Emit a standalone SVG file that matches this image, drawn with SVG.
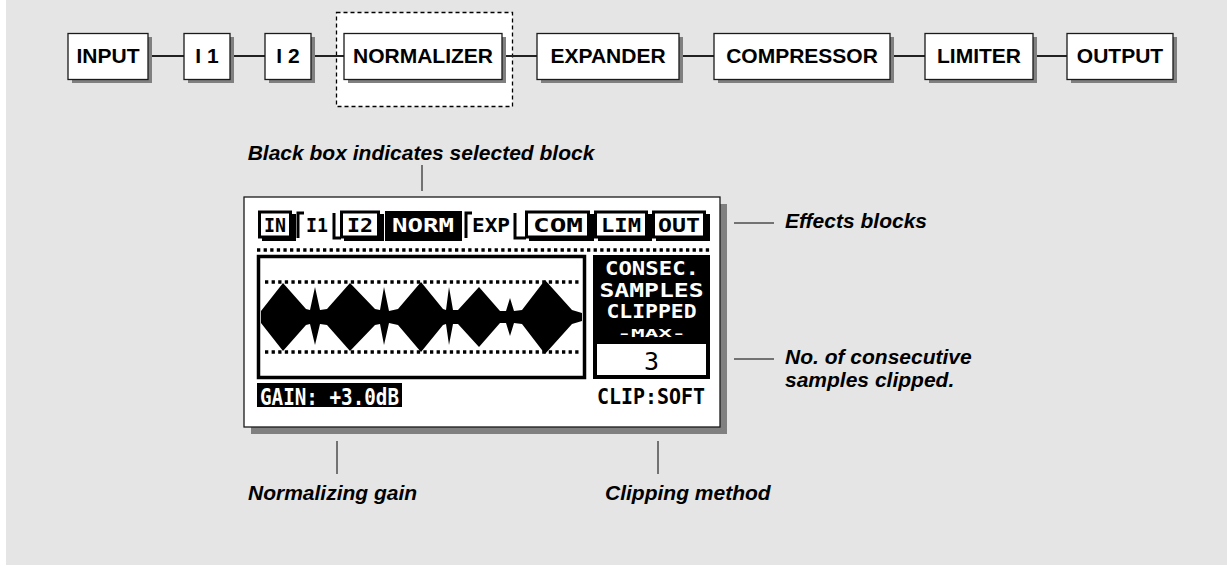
<svg xmlns="http://www.w3.org/2000/svg" width="1227" height="566" viewBox="0 0 1227 566">
<style>
.box{fill:#fff;stroke:#1a1a1a;stroke-width:1.3}
.shd{fill:#808080}
.lbl{font-family:"Liberation Sans",Arial,sans-serif;font-weight:bold;font-size:21px;fill:#000;text-anchor:middle}
.note{font-family:"Liberation Sans",Arial,sans-serif;font-weight:bold;font-style:italic;font-size:21px;fill:#000}
.lead{stroke:#000;stroke-width:1;fill:none}
.wire{stroke:#222;stroke-width:2;fill:none}
.lcd{font-family:"DejaVu Sans Mono","Liberation Mono",monospace;font-weight:bold;text-anchor:middle}
.dots{stroke:#000;stroke-width:3.4;stroke-dasharray:3.3 3.3;fill:none}
.tab{fill:#fff;stroke:#000;stroke-width:3}
.hook{fill:none;stroke:#000;stroke-width:3}
</style>
<rect x="0" y="0" width="1227" height="566" fill="#fff"/>
<rect x="6" y="0" width="1221" height="565" fill="#e5e5e5"/>

<g id="selection">
<rect x="336.5" y="12.5" width="176" height="94" fill="#fff" stroke="#000" stroke-width="1.3" stroke-dasharray="4 3"/>
</g>

<g id="connectors">
<line class="wire" x1="148" y1="56" x2="184" y2="56"/>
<line class="wire" x1="230" y1="56" x2="265" y2="56"/>
<line class="wire" x1="311" y1="56" x2="344" y2="56"/>
<line class="wire" x1="502" y1="56" x2="537" y2="56"/>
<line class="wire" x1="679" y1="56" x2="714" y2="56"/>
<line class="wire" x1="890" y1="56" x2="925" y2="56"/>
<line class="wire" x1="1033" y1="56" x2="1067" y2="56"/>
</g>

<g id="input"><rect class="shd" x="72" y="37" width="80" height="46"/><rect class="box" x="68" y="33.5" width="80" height="46"/><text class="lbl" x="108" y="63">INPUT</text></g>
<g id="i1"><rect class="shd" x="188" y="37" width="46" height="46"/><rect class="box" x="184" y="33.5" width="46" height="46"/><text class="lbl" x="207" y="63">I 1</text></g>
<g id="i2"><rect class="shd" x="269" y="37" width="46" height="46"/><rect class="box" x="265" y="33.5" width="46" height="46"/><text class="lbl" x="288" y="63">I 2</text></g>
<g id="normalizer"><rect class="shd" x="348" y="37" width="158" height="46"/><rect class="box" x="344" y="33.5" width="158" height="46"/><text class="lbl" x="423" y="63">NORMALIZER</text></g>
<g id="expander"><rect class="shd" x="541" y="37" width="142" height="46"/><rect class="box" x="537" y="33.5" width="142" height="46"/><text class="lbl" x="608" y="63">EXPANDER</text></g>
<g id="compressor"><rect class="shd" x="718" y="37" width="176" height="46"/><rect class="box" x="714" y="33.5" width="176" height="46"/><text class="lbl" x="802" y="63">COMPRESSOR</text></g>
<g id="limiter"><rect class="shd" x="929" y="37" width="108" height="46"/><rect class="box" x="925" y="33.5" width="108" height="46"/><text class="lbl" x="979" y="63">LIMITER</text></g>
<g id="output"><rect class="shd" x="1071" y="37" width="106" height="46"/><rect class="box" x="1067" y="33.5" width="106" height="46"/><text class="lbl" x="1120" y="63">OUTPUT</text></g>

<g id="annotations">
<text class="note" x="421" y="160" text-anchor="middle">Black box indicates selected block</text>
<line class="lead" x1="422" y1="165" x2="422" y2="191"/>
<line class="lead" x1="734" y1="223" x2="774" y2="223"/>
<text class="note" x="785" y="228">Effects blocks</text>
<line class="lead" x1="734" y1="359" x2="774" y2="359"/>
<text class="note" x="785" y="364">No. of consecutive</text>
<text class="note" x="785" y="387">samples clipped.</text>
<line class="lead" x1="337" y1="441" x2="337" y2="474"/>
<text class="note" x="248" y="500">Normalizing gain</text>
<line class="lead" x1="658" y1="441" x2="658" y2="474"/>
<text class="note" x="605" y="500">Clipping method</text>
</g>

<g id="lcd">
<rect class="shd" x="251" y="204" width="476" height="230"/>
<rect x="244" y="197" width="476" height="230" fill="#fff" stroke="#1a1a1a" stroke-width="1.3"/>

<g id="lcd-tabs">
<rect x="262" y="214" width="34" height="27" fill="#000"/><rect class="tab" x="259.5" y="212" width="31" height="25"/>
<text class="lcd" x="275" y="232" font-size="20" textLength="22" lengthAdjust="spacingAndGlyphs">IN</text>
<polyline class="hook" points="298,238 298,213 304,213"/>
<polyline class="hook" points="334,213 334,238 341,238"/>
<text class="lcd" x="317" y="232" font-size="20" textLength="22" lengthAdjust="spacingAndGlyphs">I1</text>
<rect x="344" y="214" width="40" height="27" fill="#000"/><rect class="tab" x="341.5" y="212" width="37" height="25"/>
<text class="lcd" x="360" y="232" font-size="20" textLength="26" lengthAdjust="spacingAndGlyphs">I2</text>
<rect x="385" y="211" width="77" height="30" fill="#000"/>
<text class="lcd" x="423" y="232" font-size="20" fill="#fff" textLength="62" lengthAdjust="spacingAndGlyphs">NORM</text>
<polyline class="hook" points="466,238 466,213 472,213"/>
<polyline class="hook" points="515,213 515,238 526,238"/>
<text class="lcd" x="491" y="232" font-size="20" textLength="38" lengthAdjust="spacingAndGlyphs">EXP</text>
<rect x="529" y="214" width="65" height="27" fill="#000"/><rect class="tab" x="526.5" y="212" width="62" height="25"/>
<text class="lcd" x="558" y="232" font-size="20" textLength="50" lengthAdjust="spacingAndGlyphs">COM</text>
<rect x="598" y="214" width="54" height="27" fill="#000"/><rect class="tab" x="595.5" y="212" width="51" height="25"/>
<text class="lcd" x="621" y="232" font-size="20" textLength="40" lengthAdjust="spacingAndGlyphs">LIM</text>
<rect x="656" y="214" width="54" height="27" fill="#000"/><rect class="tab" x="653.5" y="212" width="51" height="25"/>
<text class="lcd" x="679" y="232" font-size="20" textLength="42" lengthAdjust="spacingAndGlyphs">OUT</text>
</g>
<line class="dots" x1="257" y1="250" x2="712" y2="250"/>

<rect x="258.5" y="256.5" width="326" height="121" fill="#fff" stroke="#000" stroke-width="3.5"/>
<line class="dots" x1="265" y1="282" x2="580" y2="282"/>
<line class="dots" x1="265" y1="352" x2="580" y2="352"/>
<polygon fill="#000" points="261,311 283,283 306,309 310,310 315,287 320,310 327,309 350,283 375,309 380,310 384,287 389,311 398,309 421,282 443,309 446,310 449,287 453,310 458,310 479,287 500,311 506,311 510,298 514,311 522,310 545,280 572,310 582,313 582,321 572,324 545,354 522,324 514,323 510,336 506,323 500,323 479,347 458,324 453,324 449,345 446,324 443,325 421,352 398,325 389,323 384,345 380,324 375,325 350,351 327,325 320,324 315,345 310,324 306,325 283,351 261,323"/>

<rect x="593" y="255" width="117" height="124" fill="#000"/>
<rect x="597" y="344" width="109" height="31" fill="#fff"/>
<text class="lcd" transform="translate(652,275) scale(1,1.25)" font-size="16" fill="#fff" textLength="94" lengthAdjust="spacingAndGlyphs">CONSEC.</text>
<text class="lcd" transform="translate(651.5,297) scale(1,1.25)" font-size="16" fill="#fff" textLength="104" lengthAdjust="spacingAndGlyphs">SAMPLES</text>
<text class="lcd" transform="translate(651.5,318) scale(1,1.25)" font-size="16" fill="#fff" textLength="90" lengthAdjust="spacingAndGlyphs">CLIPPED</text>
<text class="lcd" x="651.5" y="337" font-size="11" fill="#fff" textLength="68" lengthAdjust="spacingAndGlyphs">-MAX-</text>
<text x="651.5" y="370" font-family="DejaVu Sans Mono,monospace" font-size="25" text-anchor="middle" fill="#000">3</text>

<rect x="257" y="383" width="145" height="24" fill="#000"/>
<text class="lcd" x="329.5" y="404.5" font-size="23" fill="#fff" textLength="139" lengthAdjust="spacingAndGlyphs">GAIN: +3.0dB</text>
<text class="lcd" x="651" y="404" font-size="22" fill="#000" textLength="108" lengthAdjust="spacingAndGlyphs">CLIP:SOFT</text>
</g>
</svg>
